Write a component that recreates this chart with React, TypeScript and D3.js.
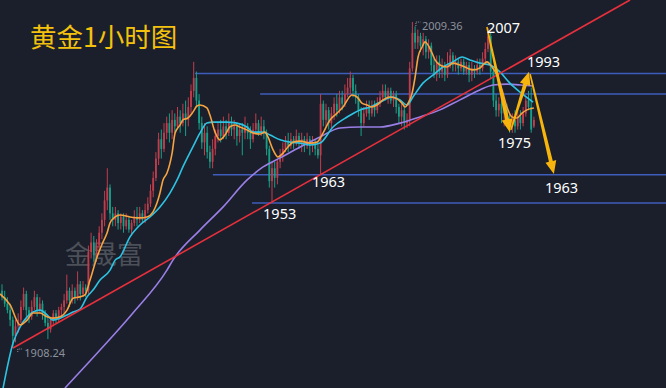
import React from "react";
import * as d3 from "d3";

const W = 666;
const H = 388;

// OHLC per 1-hour candle (index 0..197)
const opens = [
  1926,1924,1922,1920,1917,1912,1915,1917,1921,1925,
  1920,1918,1921,1924,1920,1922,1919,1916,1914,1917,
  1919,1917,1920,1921,1923,1926,1923,1926,1924,1928,
  1925,1927,1926,1938,1941,1937,1940,1944,1948,1954,
  1958,1950,1948,1950,1947,1949,1946,1948,1945,1947,
  1949,1948,1950,1948,1951,1953,1957,1961,1967,1973,
  1970,1975,1978,1975,1979,1977,1980,1978,1981,1979,
  1983,1988,1992,1985,1978,1972,1975,1969,1966,1970,
  1974,1976,1974,1977,1975,1978,1976,1977,1974,1976,
  1975,1977,1975,1973,1976,1978,1975,1977,1975,1970,
  1960,1964,1961,1966,1968,1970,1972,1971,1973,1972,
  1974,1972,1973,1971,1973,1971,1972,1970,1968,1984,
  1979,1982,1978,1981,1984,1982,1986,1984,1987,1989,
  1992,1988,1986,1982,1978,1981,1983,1981,1983,1982,
  1984,1986,1988,1986,1988,1985,1987,1983,1980,1982,
  1978,1979,1995,2006,2003,2005,2002,2004,2000,2002,
  1996,1993,1997,1994,1996,1993,1996,1999,1996,1997,
  1995,1997,1994,1996,1993,1995,1994,1996,1995,1998,
  2001,2005,1994,1985,1982,1984,1981,1983,1979,1977,
  1979,1977,1980,1978,1981,1985,1983,1977,
];
const highs = [
  1928,1926,1924,1922,1918,1917,1919,1923,1927,1926,
  1921,1923,1926,1925,1924,1923,1920,1918,1918,1920,
  1920,1921,1922,1925,1931,1927,1928,1927,1932,1929,
  1929,1928,1940,1944,1943,1942,1946,1950,1957,1964,
  1959,1952,1952,1951,1950,1950,1950,1949,1948,1951,
  1952,1952,1951,1953,1955,1959,1963,1969,1975,1976,
  1978,1980,1981,1982,1981,1983,1982,1984,1985,1986,
  1990,1997,1994,1987,1980,1978,1977,1971,1973,1976,
  1978,1979,1980,1979,1981,1980,1979,1978,1978,1978,
  1980,1978,1977,1978,1981,1979,1980,1979,1976,1971,
  1966,1966,1967,1970,1972,1974,1975,1975,1974,1976,
  1975,1975,1974,1975,1974,1974,1973,1972,1987,1985,
  1984,1983,1983,1986,1987,1988,1988,1990,1992,1994,
  1993,1990,1987,1983,1983,1985,1985,1985,1985,1986,
  1988,1990,1990,1989,1989,1988,1988,1984,1984,1983,
  1981,1997,2009.36,2008,2007,2006,2006,2005,2004,2003,
  1998,1999,1999,1998,1997,2000,2001,2000,1999,1998,
  1998,1998,1997,1997,1997,1996,1998,1998,2000,2003,
  2007.5,2006,1995,1987,1986,1985,1985,1984,1981,1981,
  1982,1982,1982,1983,1986,1988,1989,1980,
];
const lows = [
  1923,1921,1919,1915,1908.24,1910,1913,1916,1920,1918,
  1916,1917,1920,1918,1919,1917,1915,1911,1913,1915,
  1916,1916,1918,1919,1922,1921,1922,1922,1923,1923,
  1924,1924,1925,1936,1935,1935,1939,1942,1946,1951,
  1948,1946,1946,1945,1945,1944,1945,1944,1943,1946,
  1946,1947,1947,1947,1950,1952,1955,1960,1965,1967,
  1969,1973,1972,1973,1975,1976,1975,1977,1974,1977,
  1981,1986,1983,1976,1970,1968,1967,1964,1964,1968,
  1972,1972,1973,1973,1974,1974,1973,1971,1972,1968,
  1973,1973,1970,1972,1975,1974,1974,1973,1968,1958,
  1953.2,1958,1959,1964,1966,1969,1969,1970,1970,1971,
  1970,1969,1969,1970,1968,1969,1968,1967,1962,1977,
  1977,1976,1976,1979,1980,1981,1982,1983,1986,1987,
  1986,1984,1980,1974,1977,1980,1979,1980,1980,1981,
  1983,1985,1985,1984,1984,1983,1981,1978,1977,1976,
  1976.5,1977,1994,2001,2001,2000,1999,1998,1998,1994,
  1992,1991,1992,1992,1991,1992,1995,1994,1994,1993,
  1994,1993,1993,1990.7,1991,1992,1993,1993,1994,1997,
  2000,1992,1983,1980,1980,1978,1977,1977,1975,1975,
  1975,1976,1976,1977,1980,1982,1975,1976.5,
];
const closes = [
  1924,1922,1920,1917,1912,1915,1917,1921,1925,1920,
  1918,1921,1924,1920,1922,1919,1916,1914,1917,1919,
  1917,1920,1921,1923,1926,1923,1926,1924,1928,1925,
  1927,1926,1938,1941,1937,1940,1944,1948,1954,1958,
  1950,1948,1950,1947,1949,1946,1948,1945,1947,1949,
  1948,1950,1948,1951,1953,1957,1961,1967,1973,1970,
  1975,1978,1975,1979,1977,1980,1978,1981,1979,1983,
  1988,1992,1985,1978,1972,1975,1969,1966,1970,1974,
  1976,1974,1977,1975,1978,1976,1977,1974,1976,1975,
  1977,1975,1973,1976,1978,1975,1977,1975,1970,1960,
  1964,1961,1966,1968,1970,1972,1971,1973,1972,1974,
  1972,1973,1971,1973,1971,1972,1970,1968,1984,1979,
  1982,1978,1981,1984,1982,1986,1984,1987,1989,1992,
  1988,1986,1982,1978,1981,1983,1981,1983,1982,1984,
  1986,1988,1986,1988,1985,1987,1983,1980,1982,1978,
  1979,1995,2006,2003,2005,2002,2004,2000,2002,1996,
  1993,1997,1994,1996,1993,1996,1999,1996,1997,1995,
  1997,1994,1996,1993,1995,1994,1996,1995,1998,2001,
  2005,1994,1985,1982,1984,1981,1983,1979,1977,1979,
  1977,1980,1978,1981,1985,1983,1976,1979,
];

// Moving averages: [candle index, price]
const maFast: [number, number][] = [
  [-0.7,1925.0],[3,1921.6],[6.7,1915.4],[9.3,1916.9],[11.5,1919.1],[14.1,1919.1],[16.7,1917.9],[18.9,1917.5],
  [21.5,1917.9],[24.1,1920.0],[26.3,1923.7],[28.9,1924.1],[30.7,1924.7],[32.6,1929.3],[35.2,1936.5],[37.4,1941.1],
  [38.9,1943.9],[40,1947.0],[41.9,1948.9],[43.7,1949.5],[47.4,1948.9],[51.1,1948.6],[53.7,1948.9],[55.9,1950.4],
  [57.4,1953.2],[58.5,1956.3],[59.6,1960.3],[61.1,1962.5],[63,1968.7],[64.1,1974.9],[65.9,1977.4],[67,1979.0],
  [68.9,1979.6],[70.7,1981.4],[72.2,1983.3],[73.3,1983.6],[75.9,1982.7],[77,1980.5],[78.9,1975.2],[80.7,1972.8],
  [82.6,1974.3],[84.4,1976.8],[86.3,1977.4],[88.1,1976.8],[90.7,1975.9],[93,1974.9],[95.6,1974.6],[97.4,1975.2],
  [98.5,1973.7],[100.4,1969.7],[102.2,1967.5],[104.1,1968.7],[105.9,1970.6],[107.8,1972.1],[110.4,1972.4],
  [114.1,1971.8],[116.7,1972.1],[118.9,1974.9],[121.5,1979.0],[124.1,1981.1],[126.3,1983.0],[129.6,1986.7],
  [131.5,1986.1],[133.3,1984.2],[135.2,1983.6],[137,1983.0],[138.9,1983.6],[141.1,1985.2],[143.7,1986.1],
  [146.3,1985.5],[148.1,1984.2],[149.3,1983.0],[150.4,1984.2],[151.9,1987.3],[153,1992.3],[154.1,1998.5],
  [155.6,2001.6],[156.7,2003.2],[157.8,2002.2],[159.3,1999.7],[160.4,1997.6],[162.2,1996.0],[164.8,1995.4],
  [167,1996.6],[169.6,1996.0],[172.2,1995.1],[174.4,1994.5],[177,1995.1],[179.6,1997.0],[181.5,1995.4],
  [183.3,1992.9],[185.2,1988.3],[187,1983.0],[188.9,1979.9],[190.7,1979.6],[192.6,1981.1],[194.4,1982.1],[197,1982.7],
];
const maMid: [number, number][] = [
  [0.4,1895.8],[4.1,1909.8],[6.7,1914.8],[9.3,1917.9],[11.5,1919.4],[14.1,1920.0],[16.7,1918.5],[18.9,1916.9],
  [21.5,1917.5],[24.1,1918.5],[26.3,1919.4],[28.9,1920.3],[31.5,1924.1],[33.7,1926.2],[36.3,1929.3],[40,1932.4],
  [41.9,1935.5],[43.7,1936.5],[47.4,1942.7],[51.1,1946.4],[54.8,1948.9],[58.5,1952.0],[62.2,1956.3],[64.8,1960.3],
  [67,1964.4],[70.7,1970.6],[73.3,1974.9],[75.9,1978.0],[78.1,1978.3],[83.3,1978.3],[87,1978.0],[90.7,1976.8],
  [93,1975.2],[96.7,1975.2],[99.3,1974.3],[103,1972.8],[106.7,1972.1],[110.4,1971.8],[114.1,1971.2],[117.8,1971.8],
  [122.6,1976.8],[127.8,1979.9],[132.6,1982.1],[136.3,1983.0],[140,1984.5],[144.8,1986.1],[147.4,1985.2],
  [150,1983.6],[152.2,1986.1],[155.9,1990.4],[159.6,1992.9],[163.3,1995.4],[167,1997.0],[170.4,1998.5],
  [173.3,1997.6],[177,1996.6],[180.7,1996.0],[184.4,1993.9],[188.1,1990.4],[191.9,1987.6],[196.7,1984.5],
];
const maSlow: [number, number][] = [
  [23.3,1895.8],[36.3,1907.6],[48.5,1919.1],[61.1,1932.4],[63.3,1935.5],[73.3,1944.8],[81.9,1952.0],
  [90.7,1960.3],[96.7,1964.4],[103,1967.2],[110.4,1970.6],[117.8,1973.7],[125.2,1976.5],[132.6,1976.8],
  [140,1976.8],[147.4,1978.0],[154.8,1979.9],[162.2,1982.1],[169.6,1985.2],[177,1988.3],[181.9,1989.8],
  [187,1990.1],[191.9,1989.8],[196.7,1989.5],
];

// Support / resistance levels: price and the candle index they start at
const levelPrices = [1993.4, 1987.0, 1962.0, 1953.2];
const levelStarts = [71.5, 95.6, 78.1, 92.6];

// Rising trend line anchors [index, price]
const trendLine: [number, number][] = [[4.07, 1908.24], [232.6, 2016.2]];

// Forecast arrows [from, to] in [index, price]
const arrows: [number, number][][] = [
  [[179.6, 2007.8], [188.1, 1975.2]],
  [[188.5, 1975.9], [195.2, 1993.9]],
  [[195.6, 1993.2], [204.4, 1962.2]],
];

// Annotation labels
const labelTexts = ["2007", "1993", "1975", "1963", "1963", "1953"];
const labelAt: [number, number][] = [
  [179.6, 2005.9], [194.4, 1995.4], [183.7, 1970.3], [201.1, 1956.3], [114.8, 1958.2], [96.7, 1948.3],
];

const TITLE = "黄金1小时图";
const WATERMARK = "金晟富";

const BG = "#1a1f2b";
const UP = "#c23d4c";
const DOWN = "#16a088";

export default function App() {
  const N = closes.length;
  const x = d3.scaleLinear().domain([0, N - 1]).range([2, 2 + 2.7 * (N - 1)]);
  const y = d3.scaleLinear().domain([1908.24, 2009.36]).range([348, 22]);

  const line = d3
    .line<[number, number]>()
    .x((d) => x(d[0]))
    .y((d) => y(d[1]))
    .curve(d3.curveMonotoneX);

  const maxHigh = d3.max(highs) as number;
  const minLow = d3.min(lows) as number;
  const iMax = highs.indexOf(maxHigh);
  const iMin = lows.indexOf(minLow);

  const arrowShape = (a: [number, number], b: [number, number]) => {
    const x0 = x(a[0]), y0 = y(a[1]), x1 = x(b[0]), y1 = y(b[1]);
    const dx = x1 - x0, dy = y1 - y0;
    const len = Math.hypot(dx, dy);
    const ux = dx / len, uy = dy / len;
    const nx = -uy, ny = ux;
    const headL = 13, headW = 5.5, w0 = 0.8, w1 = 2.0;
    const bx = x1 - ux * headL, by = y1 - uy * headL;
    const pts = [
      [x0 + nx * w0, y0 + ny * w0],
      [bx + nx * w1, by + ny * w1],
      [bx + nx * headW, by + ny * headW],
      [x1, y1],
      [bx - nx * headW, by - ny * headW],
      [bx - nx * w1, by - ny * w1],
      [x0 - nx * w0, y0 - ny * w0],
    ];
    return "M" + pts.map((p) => p[0].toFixed(2) + "," + p[1].toFixed(2)).join("L") + "Z";
  };

  const bodyW = 1.8;

  return (
    <svg
      width={W}
      height={H}
      style={{ position: "absolute", left: 0, top: 0, display: "block" }}
      xmlns="http://www.w3.org/2000/svg"
    >
      <rect x={0} y={0} width={W} height={H} fill={BG} />

      <text
        x={65}
        y={264}
        fontSize={26}
        fill="#4c5058"
        fontFamily="'Noto Sans CJK SC', sans-serif"
      >
        {WATERMARK}
      </text>

      {/* level lines */}
      {levelPrices.map((p, k) => (
        <line
          key={"lv" + k}
          x1={x(levelStarts[k])}
          x2={W}
          y1={y(p)}
          y2={y(p)}
          stroke="#3f5dbb"
          strokeWidth={1.5}
        />
      ))}

      {/* candles */}
      {closes.map((c, i) => {
        const o = opens[i];
        const up = c >= o;
        const col = up ? UP : DOWN;
        const cx = x(i);
        const top = y(Math.max(o, c));
        const bot = y(Math.min(o, c));
        return (
          <g key={"c" + i}>
            <line x1={cx} x2={cx} y1={y(highs[i])} y2={y(lows[i])} stroke={col} strokeWidth={1} />
            <rect x={cx - bodyW / 2} y={top} width={bodyW} height={Math.max(1, bot - top)} fill={col} />
          </g>
        );
      })}

      {/* moving averages */}
      <path d={line(maSlow) || ""} fill="none" stroke="#9b7fe6" strokeWidth={1.6} />
      <path d={line(maMid) || ""} fill="none" stroke="#2ec3e2" strokeWidth={1.6} />
      <path d={line(maFast) || ""} fill="none" stroke="#f6a341" strokeWidth={1.6} />

      {/* trend line */}
      <line
        x1={x(trendLine[0][0])}
        y1={y(trendLine[0][1])}
        x2={x(trendLine[1][0])}
        y2={y(trendLine[1][1])}
        stroke="#e8303d"
        strokeWidth={1.6}
      />

      {/* extreme markers */}
      <path
        d={`M${x(iMax) + 3.5},${y(maxHigh) + 4}V${y(maxHigh)}H${x(iMax) + 8}`}
        fill="none"
        stroke="#8d919b"
        strokeWidth={1}
        strokeDasharray="1,1"
      />
      <text x={x(iMax) + 9.5} y={y(maxHigh) + 7.5} fontSize={11} fill="#8d919b" fontFamily="'Noto Sans', sans-serif">
        {maxHigh.toFixed(2)}
      </text>
      <path
        d={`M${x(iMin) + 5},${y(minLow) + 4}V${y(minLow) + 1}H${x(iMin) + 10}`}
        fill="none"
        stroke="#8d919b"
        strokeWidth={1}
        strokeDasharray="1,1"
      />
      <text x={x(iMin) + 11.5} y={y(minLow) + 8.5} fontSize={11} fill="#8d919b" fontFamily="'Noto Sans', sans-serif">
        {minLow.toFixed(2)}
      </text>

      {/* arrows */}
      {arrows.map((a, k) => (
        <path key={"ar" + k} d={arrowShape(a[0], a[1])} fill="#f6b40c" />
      ))}

      {/* labels */}
      {labelTexts.map((t, k) => (
        <text
          key={"lb" + k}
          x={x(labelAt[k][0])}
          y={y(labelAt[k][1])}
          fontSize={14.5}
          fill="#ffffff"
          fontFamily="'Noto Sans', sans-serif"
        >
          {t}
        </text>
      ))}

      <text
        x={30}
        y={47}
        fontSize={26.5}
        fill="#f4c20d"
        fontFamily="'Noto Sans CJK SC', sans-serif"
      >
        {TITLE}
      </text>
    </svg>
  );
}
